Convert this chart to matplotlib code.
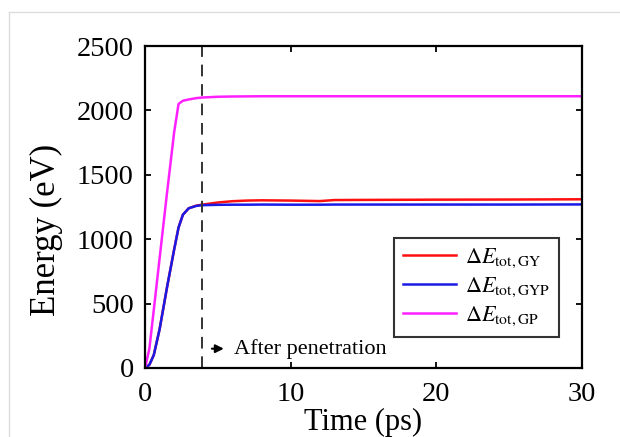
import matplotlib
matplotlib.use("Agg")
import matplotlib.pyplot as plt
from matplotlib.lines import Line2D

plt.rcParams["font.family"] = ["Liberation Serif", "DejaVu Serif"]
plt.rcParams["mathtext.fontset"] = "stix"

# time axis (ps)
time_ps = [0, 0.3, 0.6, 1.0, 1.5, 2.0, 2.3, 2.6, 3.0, 3.5, 3.9,
           5, 6, 7, 8, 10, 11, 12, 13, 15, 20, 25, 30]

# energy curves (eV)
e_gy = [0, 25, 100, 300, 620, 920, 1090, 1190, 1240, 1260, 1268,
        1285, 1295, 1300, 1302, 1300, 1298, 1296, 1304, 1305, 1307, 1308, 1310]
e_gyp = [0, 25, 100, 300, 620, 920, 1090, 1190, 1240, 1258, 1264,
         1267, 1268, 1268, 1269, 1268, 1268, 1268, 1269, 1269, 1269, 1269, 1270]
e_gp = [0, 150, 450, 850, 1350, 1830, 2050, 2075, 2085, 2095, 2100,
        2106, 2108, 2109, 2110, 2110, 2110, 2110, 2110, 2110, 2110, 2110, 2110]

labels = [r"$\Delta E_{\rm tot,GY}$", r"$\Delta E_{\rm tot,GYP}$", r"$\Delta E_{\rm tot,GP}$"]
penetration_t = 3.9

fig = plt.figure(figsize=(6.2, 4.37), dpi=100)
ax = fig.add_axes([0.2339, 0.1579, 0.7048, 0.7368])

ax.plot(time_ps, e_gy, color="#ff1010", lw=1.8, label=labels[0])
ax.plot(time_ps, e_gyp, color="#1a1ae6", lw=1.8, label=labels[1])
ax.plot(time_ps, e_gp, color="#ff20ff", lw=1.8, label=labels[2])

ax.axvline(penetration_t, color="#333333", lw=1.4, linestyle=(0, (6, 4)))

ax.annotate("", xy=(5.6, 150), xytext=(4.4, 150),
            arrowprops=dict(arrowstyle="-|>", color="black", lw=1.5, mutation_scale=12))
ax.text(6.1, 150, "After penetration", fontsize=16, va="center", ha="left")

ax.set_xlim(0, 30)
ax.set_ylim(0, 2500)
ax.set_xticks([0, 10, 20, 30])
ax.set_yticks([0, 500, 1000, 1500, 2000, 2500])
ax.tick_params(direction="in", top=True, right=True, labelsize=20.5, length=4, width=1.3)
ax.tick_params(axis="y", pad=8)
ax.tick_params(axis="x", pad=10)
for s in ax.spines.values():
    s.set_linewidth(1.6)

ax.set_xlabel("Time (ps)", fontsize=22, labelpad=1)
ax.set_ylabel("Energy (eV)", fontsize=25)
ax.yaxis.set_label_coords(-0.188, 0.43)

leg = ax.legend(loc="lower right", bbox_to_anchor=(0.947, 0.096), borderaxespad=0,
                fontsize=16, frameon=True, fancybox=False, handlelength=2.4,
                handletextpad=0.4, labelspacing=0.25, borderpad=0.4)
leg.get_frame().set_edgecolor("black")
leg.get_frame().set_linewidth(1.5)

# faint border of the original screenshot
fig.add_artist(Line2D([0.0145, 0.0145], [0.0, 0.9725], color="#dddddd", lw=1, transform=fig.transFigure))
fig.add_artist(Line2D([0.0145, 1.0], [0.9725, 0.9725], color="#dddddd", lw=1, transform=fig.transFigure))

fig.savefig("out.png", dpi=100)
